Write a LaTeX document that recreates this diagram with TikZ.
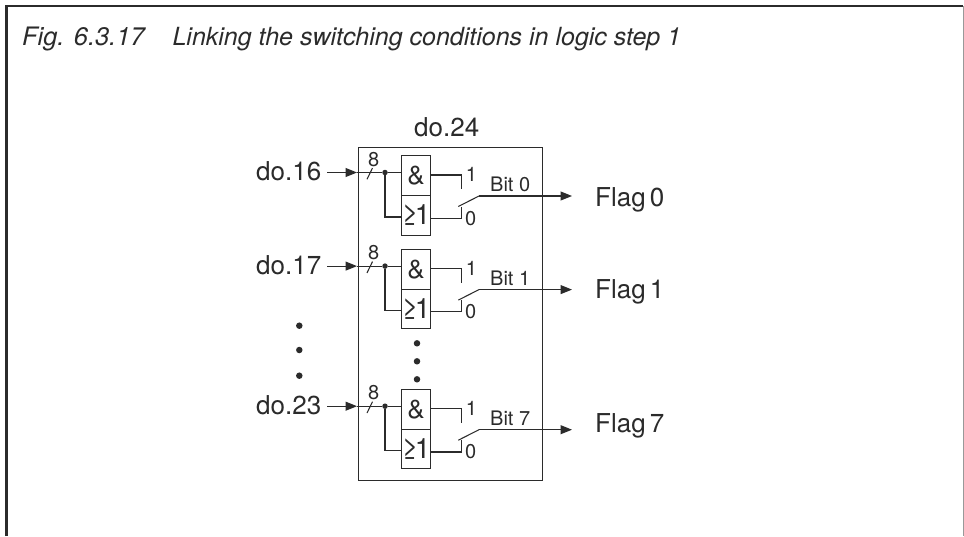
\documentclass[tikz,border=0pt]{standalone}
\usepackage{fontspec}
\setmainfont{TeX Gyre Heros}
\usetikzlibrary{arrows.meta}
\definecolor{ink}{HTML}{2B2B2B}
\tikzset{
  ln/.style={draw=ink,line width=1.05pt},
  arr/.style={ln,-{Triangle[length=11.5pt,width=9pt]}},
  gatebox/.style={draw=ink,line width=1.05pt,fill=white,minimum width=28.5pt,minimum height=39.7pt,inner sep=0pt,text=ink,font=\fontsize{26}{28}\selectfont},
  big/.style={inner sep=0pt,anchor=base west,text=ink,font=\fontsize{26}{28}\selectfont},
  small/.style={inner sep=0pt,anchor=base west,text=ink,font=\fontsize{20}{22}\selectfont},
  dotn/.style={circle,fill=ink,inner sep=0pt,minimum size=#1},
}
\begin{document}
\begin{tikzpicture}[x=1pt,y=-1pt]
\useasboundingbox (0,0) rectangle (964,536);
\fill[white] (0,0) rectangle (964,536);
\coordinate (fa) at (6.5,536);
\coordinate (fb) at (6.5,6);
\coordinate (fc) at (963.3,6);
\coordinate (fd) at (963.3,536);
\draw[draw=ink,line width=2.5pt] (fa) -- (fb) -- (fc);
\draw[draw=gray!80,line width=1pt] (fc) -- (fd);
\node[big,font=\fontsize{25.4}{28}\selectfont\itshape] (title) at (22,45) {Fig. 6.3.17\hspace{28pt}\fontsize{25}{28}\selectfont Linking the switching conditions in logic step 1};
\node[draw=ink,line width=1.05pt,minimum width=184.3pt,minimum height=332.8pt,inner sep=0pt,anchor=north west] (main) at (357.7,146.7) {};
\node[big] (mainlab) at (414,136.7) {do.24};
\foreach \i/\d/\lab in {0/0/do.16,1/93.6/do.17,7/233.7/do.23}{
  \begin{scope}[shift={(0,\d)}]
    \node[big] (in\i) at (256,180.7) {\lab};
    \coordinate (st\i) at (327,172.5);
    \coordinate (tip\i) at (357,172.5);
    \node[dotn=5.5pt] (j\i) at (385,172.5) {};
    \coordinate (sa\i) at (367,179.3);
    \coordinate (sb\i) at (372.5,168);
    \node[small] (eight\i) at (368,166) {8};
    \node[gatebox] (and\i) at (416,175.7) {\&};
    \node[gatebox,font=\fontsize{28}{28}\selectfont] (or\i) at (416,215.4) {≥\kern-3pt 1};
    \coordinate (ori\i) at (402,217);
    \coordinate (t1\i) at (461.7,175);
    \coordinate (e1\i) at (461.7,189);
    \coordinate (t0\i) at (461.7,218.3);
    \coordinate (e0\i) at (461.7,206.5);
    \coordinate (s0\i) at (458.3,206.5);
    \coordinate (s1\i) at (479,196);
    \coordinate (out\i) at (572,196);
    \node[small] (one\i) at (465.7,181.7) {1};
    \node[small] (zero\i) at (465,225) {0};
    \node[small] (bit\i) at (490,191.7) {Bit \i};
    \draw[arr] (st\i) -- (tip\i);
    \draw[ln] (tip\i) -- (j\i);
    \draw[ln] (sa\i) -- (sb\i);
    \draw[ln] (j\i) -- (j\i -| and\i.west);
    \draw[ln] (j\i) |- (ori\i);
    \draw[ln] (and\i.east |- t1\i) -- (t1\i) -- (e1\i);
    \draw[ln] (or\i.east |- t0\i) -- (t0\i) -- (e0\i);
    \draw[ln] (s0\i) -- (s1\i);
    \draw[arr] (s1\i) -- (out\i);
  \end{scope}
}
\node[big] (flag0) at (595,206.7) {Flag\kern4pt 0};
\node[big] (flag1) at (595,298) {Flag\kern4pt 1};
\node[big] (flag7) at (595,432) {Flag\kern4pt 7};
\foreach \n/\x/\y in {a/299.3/325.7,b/299.3/350,c/299.3/375.7,d/417/343.3,e/417/361.3,f/417/379.3}{
  \node[dotn=6.5pt] (dot\n) at (\x,\y) {};
}
\end{tikzpicture}
\end{document}
